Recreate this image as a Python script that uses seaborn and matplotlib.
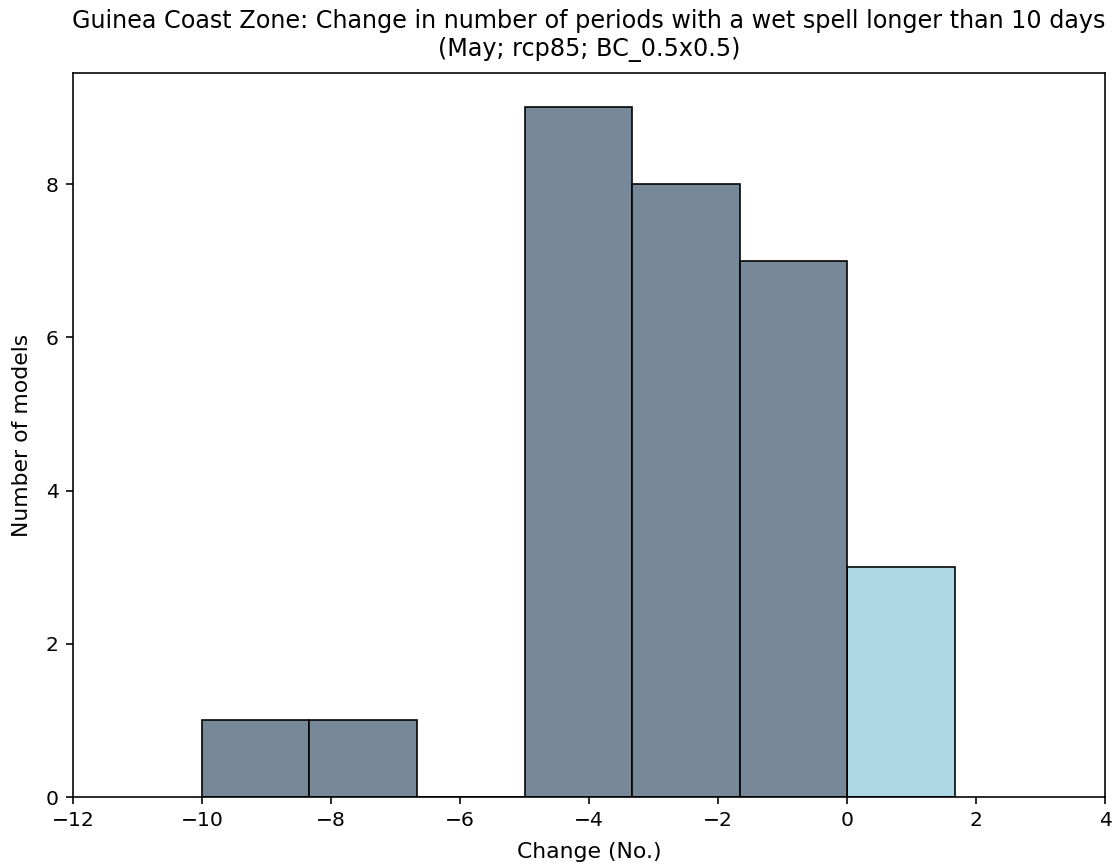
import numpy as np
import pandas as pd
import seaborn as sns
import matplotlib
matplotlib.use('Agg')
import matplotlib.pyplot as plt

# Histogram data (bin width 5/3)
bin_edges = list(np.linspace(-10, 5 / 3, 8))
bin_counts = [1, 1, 0, 9, 8, 7, 3]
bin_sign = ['neg', 'neg', 'neg', 'neg', 'neg', 'neg', 'pos']
colors = {'neg': 'lightslategray', 'pos': 'lightblue'}

title = ('Guinea Coast Zone: Change in number of periods with a wet spell longer than 10 days\n'
         '(May; rcp85; BC_0.5x0.5)')

centers = [(a + b) / 2 for a, b in zip(bin_edges[:-1], bin_edges[1:])]
df = pd.DataFrame({'change': centers, 'count': bin_counts, 'sign': bin_sign})

DPI = 146
fig = plt.figure(figsize=(1114 / DPI, 865 / DPI), dpi=DPI)
ax = fig.add_axes([0.0655, 0.0786, 0.9265, 0.837])

sns.histplot(data=df, x='change', weights='count', bins=bin_edges, hue='sign',
             palette=colors, alpha=1, edgecolor='black', linewidth=0.8,
             legend=False, ax=ax)

ax.set_xlim(-12, 4)
ax.set_ylim(0, 9.45)
ax.set_xlabel('Change (No.)', fontsize=10.8, labelpad=6)
ax.set_ylabel('Number of models', fontsize=10.8, labelpad=7)
ax.set_title(title, fontsize=11.8, pad=8.5)

fig.savefig('out.png', dpi=DPI)
